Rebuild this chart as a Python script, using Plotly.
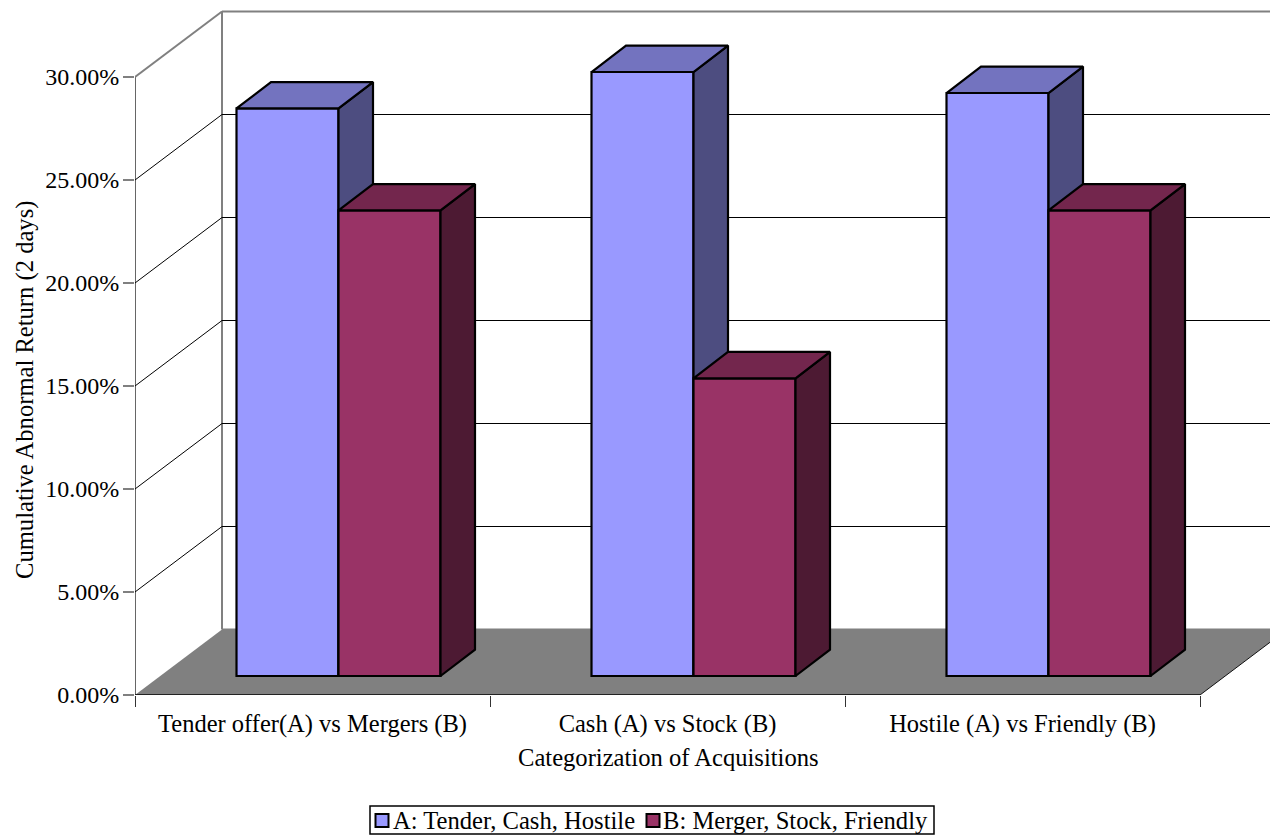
import plotly.graph_objects as go

categories = ["Tender offer(A) vs Mergers (B)", "Cash (A) vs Stock (B)", "Hostile (A) vs Friendly (B)"]
series_a = [27.55, 29.32, 28.3]
series_b = [22.6, 14.45, 22.6]
name_a = "A: Tender, Cash, Hostile"
name_b = "B: Merger, Stock, Friendly"
y_ticks = [0, 5, 10, 15, 20, 25, 30]
y_ticktext = ["0.00%", "5.00%", "10.00%", "15.00%", "20.00%", "25.00%", "30.00%"]

# projection of the depth axis, in axis units
PX_X, PX_Y = 355.0, 20.6
WALL_DX, WALL_DY = 87 / PX_X, 65.5 / PX_Y
BAR_DX, BAR_DY = 34.5 / PX_X, 26.4 / PX_Y
FRONT_DX, FRONT_DY = 26 / PX_X, 19 / PX_Y
BAR_W = 102 / PX_X
FONT = "Liberation Serif"
FS = 24
FS_TITLE = 24.6
PLOT_L, PLOT_B = 135, 695
X_RANGE = [0, (1270 - PLOT_L) / PX_X]
Y_RANGE = [0, PLOT_B / PX_Y]

def px(x):
    return (x - PLOT_L) / (1270 - PLOT_L)

def py(y):
    return (PLOT_B - y) / PLOT_B

def faces(values, offset):
    side, top = ([], []), ([], [])
    centers = []
    for i, v in enumerate(values):
        l = i + 0.5 + FRONT_DX + offset
        r = l + BAR_W
        b = FRONT_DY
        t = b + v
        centers.append(l + BAR_W / 2)
        side[0].extend([r, r + BAR_DX, r + BAR_DX, r, r, None])
        side[1].extend([b, b + BAR_DY, t + BAR_DY, t, b, None])
        top[0].extend([l, l + BAR_DX, r + BAR_DX, r, l, None])
        top[1].extend([t, t + BAR_DY, t + BAR_DY, t, t, None])
    return side, top, centers

COL_A = "#9999FF"
COL_B = "#993366"
fig = go.Figure()
for vals, off, name, c_front, c_top, c_side, xa, ya in [
    (series_a, -BAR_W, name_a, COL_A, "#7373BF", "#4D4D80", "x", "y"),
    (series_b, 0, name_b, COL_B, "#73264D", "#4D1A33", "x2", "y2"),
]:
    side, top, centers = faces(vals, off)
    fig.add_trace(go.Bar(x=centers, y=vals, base=FRONT_DY, width=BAR_W, name=name, xaxis=xa, yaxis=ya,
                         marker=dict(color=c_front, line=dict(color="black", width=2.2)),
                         hoverinfo="skip", showlegend=False))
    for (xs, ys), col in ((side, c_side), (top, c_top)):
        fig.add_trace(go.Scatter(x=xs, y=ys, mode="lines", fill="toself", fillcolor=col, xaxis=xa, yaxis=ya,
                                 line=dict(color="black", width=2.2), showlegend=False,
                                 hoverinfo="skip"))

n = len(categories)
shapes = [
    dict(type="path", layer="below", line=dict(width=0), fillcolor="#808080",
         path=f"M0,0 L{WALL_DX},{WALL_DY} L{n + WALL_DX},{WALL_DY} L{n},0 Z"),
    dict(type="line", layer="below", x0=WALL_DX, x1=n + WALL_DX, y0=WALL_DY, y1=WALL_DY,
         line=dict(color="#808080", width=2)),
    dict(type="line", layer="below", x0=WALL_DX, x1=WALL_DX, y0=WALL_DY, y1=y_ticks[-1] + WALL_DY,
         line=dict(color="#808080", width=2)),
    dict(type="line", layer="below", x0=0, x1=0, y0=0, y1=y_ticks[-1],
         line=dict(color="#666666", width=2)),
    dict(type="line", layer="below", x0=0, x1=n, y0=0, y1=0, line=dict(color="#222222", width=2)),
    dict(type="line", layer="below", x0=n, x1=n + WALL_DX, y0=0, y1=WALL_DY,
         line=dict(color="#111111", width=1)),
]
for v in y_ticks[1:]:
    col, w = ("#808080", 2) if v == y_ticks[-1] else ("black", 1)
    shapes.append(dict(type="line", layer="below", x0=0, x1=WALL_DX, y0=v, y1=v + WALL_DY,
                       line=dict(color=col, width=w)))
    shapes.append(dict(type="line", layer="below", x0=WALL_DX, x1=n + WALL_DX,
                       y0=v + WALL_DY, y1=v + WALL_DY, line=dict(color=col, width=w)))

# legend box with its swatches
def rect(x0, y0, x1, y1, fill, lw):
    return dict(type="rect", xref="paper", yref="paper", x0=px(x0), x1=px(x1), y0=py(y0), y1=py(y1),
                fillcolor=fill, line=dict(color="black", width=lw))

shapes += [rect(370, 806, 934, 834, "white", 1.5),
           rect(375.5, 814, 388.5, 827, COL_A, 2),
           rect(646.5, 814, 659.5, 827, COL_B, 2)]

def label(text, x, y, size, xanchor="center", angle=0):
    return dict(text=text, xref="paper", yref="paper", x=px(x), y=py(y), showarrow=False,
                xanchor=xanchor, yanchor="middle", textangle=angle, font=dict(family=FONT, size=size))

fig.update_layout(
    width=1270, height=835, margin=dict(l=PLOT_L, r=0, t=0, b=835 - PLOT_B),
    paper_bgcolor="white", plot_bgcolor="white", barmode="overlay",
    font=dict(family=FONT, size=FS, color="black"),
    shapes=shapes,
    showlegend=False,
    annotations=[
        label("Categorization of Acquisitions", 668, 757, FS_TITLE),
        label("Cumulative Abnormal Return (2 days)", 25, 390, FS_TITLE, angle=-90),
        label(name_a, 391, 820, FS_TITLE, xanchor="left"),
        label(name_b, 661, 820, FS_TITLE, xanchor="left"),
    ],
)
fig.update_xaxes(range=X_RANGE, tickvals=[i + 0.5 for i in range(n)], ticktext=categories,
                 ticks="", showgrid=False, zeroline=False, showline=False, fixedrange=True,
                 tickfont=dict(family=FONT, size=24.5), ticklabelstandoff=11,
                 minor=dict(tickvals=list(range(n + 1)), ticks="outside", ticklen=11,
                            tickcolor="#333333", tickwidth=1, showgrid=False))
fig.update_yaxes(range=Y_RANGE, tickvals=y_ticks, ticktext=y_ticktext,
                 ticks="outside", ticklen=11, tickwidth=2, tickcolor="#808080",
                 showgrid=False, zeroline=False, showline=False, fixedrange=True,
                 tickfont=dict(family=FONT, size=FS), ticklabelstandoff=-1)
fig.update_layout(
    xaxis2=dict(overlaying="x", range=X_RANGE, visible=False, fixedrange=True),
    yaxis2=dict(overlaying="y", range=Y_RANGE, visible=False, fixedrange=True),
)

fig.write_html("out.html", config={"displayModeBar": False},
               post_script="document.body.style.margin='0';document.body.style.overflow='hidden';")
